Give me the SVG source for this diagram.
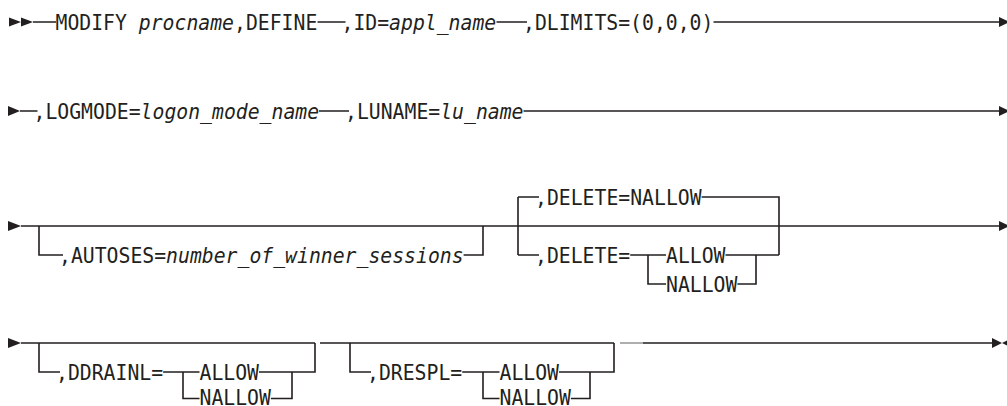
<svg xmlns="http://www.w3.org/2000/svg" width="1007" height="406" viewBox="0 0 1007 406">
<style>
.t{font-family:"DejaVu Sans Mono","Liberation Mono",monospace;font-size:21.5px;fill:#231f20}
.i{font-style:italic}
.c{fill:none;stroke:#231f20;stroke-width:1.6}
.g{fill:none;stroke:#9a9a9a;stroke-width:1.6}
.a{fill:#231f20}
</style>
<rect width="1007" height="406" fill="#ffffff"/>
<g id="connectors">
<path class="c" d="M33 22H56M317.5 22H345.5M496.5 22H527M713.5 22H999"/>
<path class="c" d="M20 111H37.5M319 111H349M523.5 111H999"/>
<path class="c" d="M21 226H999"/>
<path class="c" d="M39 226V255H63M463.6 255H483V226"/>
<path class="c" d="M518 197V255M518 197H539M518 255H539M701.6 197H779V255M630.2 255H666M725.5 255H779M648 255V284H666M737.4 284H756V255"/>
<path class="c" d="M21 343H315M320 343H614M643 343H992"/>
<path class="g" d="M620 343H643"/>
<path class="c" d="M39 343V372H60M163.1 372H199.5M183 372V398.5H199.5M259 372H315V343M270.9 398.5H292V372"/>
<path class="c" d="M350 343V372H371M462.2 372H499.5M483 372V398.5H499.5M559 372H614V343M570.9 398.5H590V372"/>
<polygon class="a" points="9,17.5 21,22 9,26.5"/>
<polygon class="a" points="21,17.5 33,22 21,26.5"/>
<polygon class="a" points="999,17 1010,22 999,27"/>
<polygon class="a" points="8,106 20,111 8,116"/>
<polygon class="a" points="999,106 1010,111 999,116"/>
<polygon class="a" points="8,221 21,226 8,231"/>
<polygon class="a" points="999,221 1010,226 999,231"/>
<polygon class="a" points="8,338 21,343 8,348"/>
<polygon class="a" points="992,338 1002,343 992,348"/>
<polygon class="a" points="1012,338 1002,343 1012,348"/>
</g>
<g id="modify"><text class="t" x="55.5" y="30" textLength="261.8" lengthAdjust="spacingAndGlyphs">MODIFY <tspan class="i">procname</tspan>,DEFINE</text></g>
<g id="id"><text class="t" x="341.5" y="30" textLength="154.7" lengthAdjust="spacingAndGlyphs">,ID=<tspan class="i">appl_name</tspan></text></g>
<g id="dlimits"><text class="t" x="523" y="30" textLength="190.4" lengthAdjust="spacingAndGlyphs">,DLIMITS=(0,0,0)</text></g>
<g id="logmode"><text class="t" x="33.5" y="119" textLength="285.6" lengthAdjust="spacingAndGlyphs">,LOGMODE=<tspan class="i">logon_mode_name</tspan></text></g>
<g id="luname"><text class="t" x="345" y="119" textLength="178.5" lengthAdjust="spacingAndGlyphs">,LUNAME=<tspan class="i">lu_name</tspan></text></g>
<g id="autoses"><text class="t" x="59" y="263" textLength="404.6" lengthAdjust="spacingAndGlyphs">,AUTOSES=<tspan class="i">number_of_winner_sessions</tspan></text></g>
<g id="delete-default"><text class="t" x="535" y="205" textLength="166.6" lengthAdjust="spacingAndGlyphs">,DELETE=NALLOW</text></g>
<g id="delete"><text class="t" x="535" y="263" textLength="95.2" lengthAdjust="spacingAndGlyphs">,DELETE=</text></g>
<g id="delete-allow"><text class="t" x="666" y="263" textLength="59.5" lengthAdjust="spacingAndGlyphs">ALLOW</text></g>
<g id="delete-nallow"><text class="t" x="666" y="292" textLength="71.4" lengthAdjust="spacingAndGlyphs">NALLOW</text></g>
<g id="ddrainl"><text class="t" x="56" y="380" textLength="107.1" lengthAdjust="spacingAndGlyphs">,DDRAINL=</text></g>
<g id="ddrainl-allow"><text class="t" x="199.5" y="380" textLength="59.5" lengthAdjust="spacingAndGlyphs">ALLOW</text></g>
<g id="ddrainl-nallow"><text class="t" x="199.5" y="405" textLength="71.4" lengthAdjust="spacingAndGlyphs">NALLOW</text></g>
<g id="drespl"><text class="t" x="367" y="380" textLength="95.2" lengthAdjust="spacingAndGlyphs">,DRESPL=</text></g>
<g id="drespl-allow"><text class="t" x="499.5" y="380" textLength="59.5" lengthAdjust="spacingAndGlyphs">ALLOW</text></g>
<g id="drespl-nallow"><text class="t" x="499.5" y="405" textLength="71.4" lengthAdjust="spacingAndGlyphs">NALLOW</text></g>
</svg>
